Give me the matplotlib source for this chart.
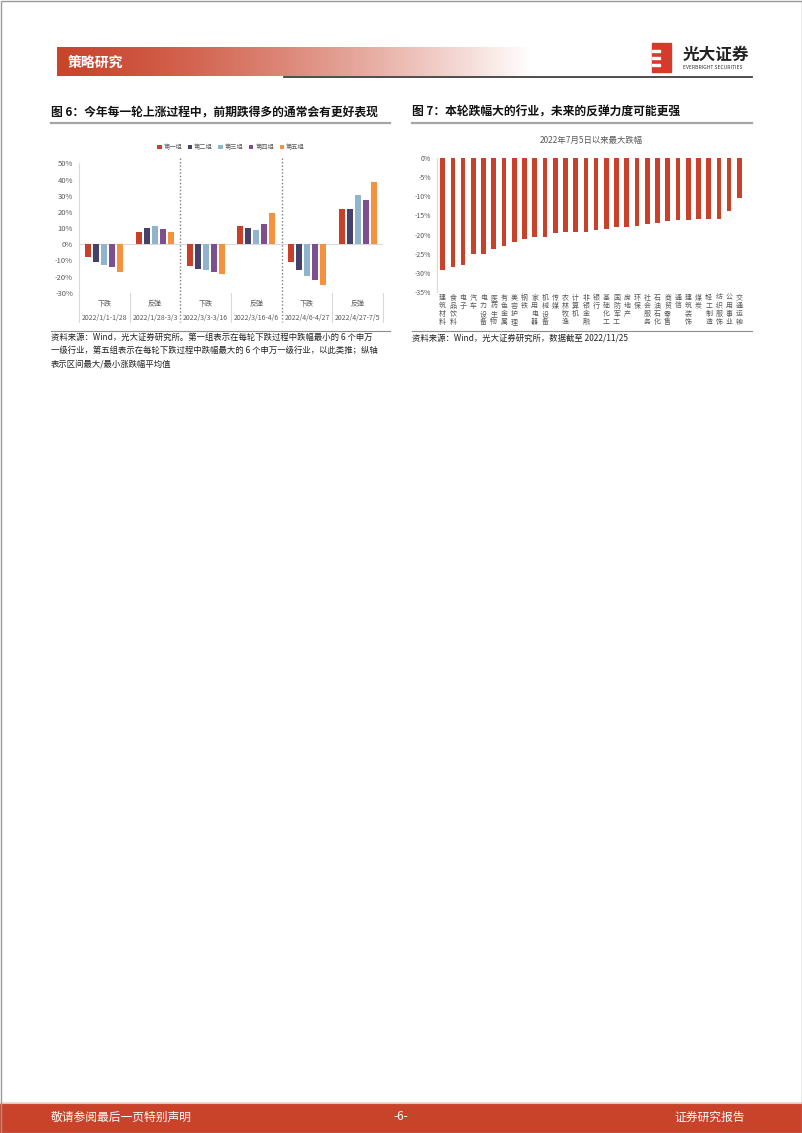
import numpy as np
import matplotlib; matplotlib.use("Agg")
import matplotlib.pyplot as plt
from matplotlib.patches import Rectangle

plt.rcParams["font.family"] = ["Noto Sans CJK SC", "DejaVu Sans"]
plt.rcParams["axes.unicode_minus"] = False

W, H = 802, 1133
GRAY = "#595959"; RED = "#C8412B"

# figure 6: average max move per group in each window
groups = ["第一组", "第二组", "第三组", "第四组", "第五组"]
phases = ["下跌", "反弹", "下跌", "反弹", "下跌", "反弹"]
periods = ["2022/1/1-1/28", "2022/1/28-3/3", "2022/3/3-3/16",
           "2022/3/16-4/6", "2022/4/6-4/27", "2022/4/27-7/5"]
g1 = [-7.6, 7.4, -13.6, 11.3, -10.9, 21.6]
g2 = [-11.1, 10.3, -15.0, 10.1, -15.8, 22.0]
g3 = [-12.5, 11.3, -16.0, 8.6, -19.5, 30.5]
g4 = [-14.0, 9.7, -16.9, 12.3, -22.0, 27.6]
g5 = [-16.9, 7.8, -18.5, 19.5, -24.9, 38.5]
group_colors = ["#C8402A", "#44416B", "#8FB4CC", "#7D4F8E", "#F4923E"]

# figure 7: max drawdown since 2022/7/5 by industry
industries = ["建筑材料", "食品饮料", "电子", "汽车", "电力设备", "医药生物", "有色金属",
              "美容护理", "钢铁", "家用电器", "机械设备", "传媒", "农林牧渔", "计算机",
              "非银金融", "银行", "基础化工", "国防军工", "房地产", "环保", "社会服务",
              "石油石化", "商贸零售", "通信", "建筑装饰", "煤炭", "轻工制造", "纺织服饰",
              "公用事业", "交通运输"]
drawdown = [-29.4, -28.5, -27.9, -25.2, -25.0, -23.7, -22.9, -22.0, -21.3, -20.7,
            -20.6, -19.7, -19.4, -19.3, -19.3, -18.7, -18.5, -18.1, -17.9, -17.8,
            -17.2, -17.0, -16.5, -16.3, -16.2, -16.0, -16.0, -15.8, -13.9, -10.4]

fig = plt.figure(figsize=(W / 100, H / 100), dpi=100)
bg = fig.add_axes([0, 0, 1, 1]); bg.axis("off")

def px_axes(x0, y0, x1, y1):
    return fig.add_axes([x0 / W, 1 - y1 / H, (x1 - x0) / W, (y1 - y0) / H])

# header band with gradient
t = np.linspace(0, 1, 300) ** 1.4
red = np.array([0.79, 0.27, 0.18]); white = np.ones(3)
img = (red[None, :] * (1 - t[:, None]) + white[None, :] * t[:, None])[None, :, :]
bg.imshow(img, extent=[57, 532, 76, 47], aspect="auto", zorder=1)
bg.text(68, 63, "策略研究", color="white", fontsize=10, fontweight="bold", va="center")
bg.plot([284, 752], [77, 77], color="#3F3F3F", lw=1.3)
# logo
bg.add_patch(Rectangle((652, 43), 19, 29, color="#D8392B", zorder=2))
for yy in (50, 57, 64):
    bg.add_patch(Rectangle((652, yy), 8, 2.2, color="white", zorder=3))
bg.text(683, 55, "光大证券", fontsize=12, fontweight="bold", color="#222222", va="center")
bg.text(683, 67.5, "EVERBRIGHT SECURITIES", fontsize=3.6, color="#333333", va="center")

# titles
bg.text(51, 112, "图 6：今年每一轮上涨过程中，前期跌得多的通常会有更好表现",
        fontsize=8.5, fontweight="bold", va="center", color="#111111")
bg.text(412, 112, "图 7：本轮跌幅大的行业，未来的反弹力度可能更强",
        fontsize=8.5, fontweight="bold", va="center", color="#111111")
bg.plot([51, 390], [123, 123], color="#A6A6A6", lw=1.6)
bg.plot([412, 752], [123, 123], color="#A6A6A6", lw=1.6)
bg.plot([51, 390], [331, 331], color="#8C8C8C", lw=0.8)
bg.plot([412, 752], [331, 331], color="#8C8C8C", lw=0.8)

# source notes
src_kw = dict(fontsize=6, color="#222222", va="center")
bg.text(51, 337.5, "资料来源：Wind，光大证券研究所。第一组表示在每轮下跌过程中跌幅最小的 6 个申万", **src_kw)
bg.text(51, 350.5, "一级行业，第五组表示在每轮下跌过程中跌幅最大的 6 个申万一级行业，以此类推；纵轴", **src_kw)
bg.text(51, 363.5, "表示区间最大/最小涨跌幅平均值", **src_kw)
bg.text(412, 337.5, "资料来源：Wind，光大证券研究所，数据截至 2022/11/25", **src_kw)

# footer
bg.add_patch(Rectangle((0, 1103), W, 30, color="#C8432A", zorder=2))
bg.plot([0, W], [1102.5, 1102.5], color="#E8C9B8", lw=0.8)
bg.text(51, 1117, "敬请参阅最后一页特别声明", fontsize=8.5, color="white", va="center", zorder=3)
bg.text(401, 1117, "-6-", fontsize=8.5, color="white", va="center", ha="center", zorder=3)
bg.text(745, 1117, "证券研究报告", fontsize=8.5, color="white", va="center", ha="right", zorder=3)
bg.add_patch(Rectangle((0.5, 0.5), W - 1, H - 1, fill=False, ec="#9A9A9A", lw=1, zorder=4))
bg.set_xlim(0, W); bg.set_ylim(H, 0)

# ---- figure 6 ----
ax = px_axes(79, 158, 383, 322)
x = np.arange(len(periods))
series = [g1, g2, g3, g4, g5]
for i, (vals, c, name) in enumerate(zip(series, group_colors, groups)):
    ax.bar(x + (i - 2) * 0.158, vals, width=0.12, color=c, label=name, zorder=3)
ax.set_xlim(-0.5, len(periods) - 0.5); ax.set_ylim(-48, 53.3)
ax.axhline(0, color="#D9D9D9", lw=0.8, zorder=1)
for s in ax.spines.values(): s.set_visible(False)
ax.set_xticks([])
ax.set_yticks(range(-30, 51, 10))
ax.set_yticklabels([f"{v}%" for v in range(-30, 51, 10)], fontsize=5.5, color=GRAY)
ax.tick_params(axis="y", length=0, pad=4.3)
ax.plot([-0.5, -0.5], [50, -48], color="#D9D9D9", lw=0.8, clip_on=False)
for xs in (0.5, 2.5, 4.5, 5.5):
    ax.plot([xs, xs], [-30, -48], color="#D9D9D9", lw=0.8, clip_on=False)
for xs in (1.5, 3.5):
    ax.plot([xs, xs], [53.3, -48], color="#7F7F7F", lw=1, ls=(0, (1, 1.5)), clip_on=False)
for i in x:
    ax.text(i, -36.9, phases[i], fontsize=5, color=GRAY, ha="center", va="center")
    ax.text(i, -45.3, periods[i], fontsize=5, color=GRAY, ha="center", va="center")
ax.legend(loc="center", bbox_to_anchor=(0.5, 1.067), ncol=5, frameon=False, fontsize=4.5,
          handlelength=0.7, handleheight=0.7, handletextpad=0.3, columnspacing=0.9,
          labelcolor=GRAY)

# ---- figure 7 ----
ax2 = px_axes(437, 158.3, 745, 291.7)
xi = np.arange(len(industries))
ax2.bar(xi, drawdown, width=0.46, color=RED, zorder=3)
ax2.set_xlim(-0.55, len(industries) - 0.45); ax2.set_ylim(-35, 0)
for k in ("top", "right", "bottom"): ax2.spines[k].set_visible(False)
ax2.spines["left"].set_color("#D9D9D9"); ax2.spines["left"].set_linewidth(0.8)
ax2.set_yticks(range(-35, 1, 5))
ax2.set_yticklabels([f"{v}%" for v in range(-35, 1, 5)], fontsize=5, color=GRAY)
ax2.tick_params(axis="y", length=0, pad=4.3)
ax2.set_xticks(xi)
ax2.set_xticklabels(["\n".join(n) for n in industries], fontsize=5, color=GRAY, va="top")
for lbl in ax2.get_xticklabels(): lbl.set_linespacing(1.0)
ax2.tick_params(axis="x", length=0, pad=1.5)
ax2.set_title("2022年7月5日以来最大跌幅", fontsize=6, color=GRAY, pad=11)

fig.savefig("out.png", dpi=100)
